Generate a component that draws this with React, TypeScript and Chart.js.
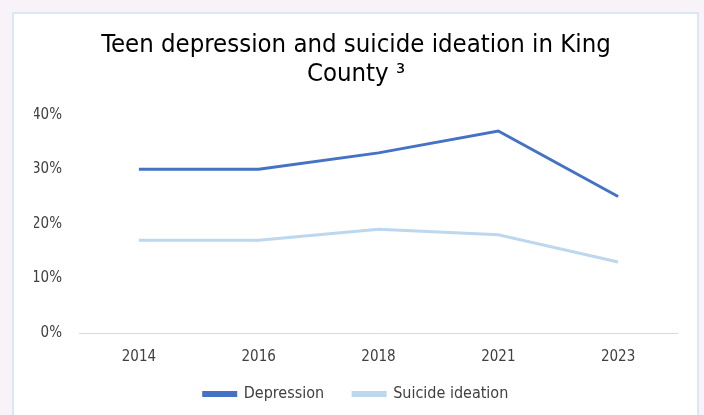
import React, { useEffect, useRef } from "react";
import { Chart, registerables } from "chart.js";

Chart.register(...registerables);

const categories = ["2014", "2016", "2018", "2021", "2023"];
const depression = [30, 30, 33, 37, 25];
const suicideIdeation = [17, 17, 19, 18, 13];
const yTicks = [0, 10, 20, 30, 40];
const titleLines = ["Teen depression and suicide ideation in King", "County \u00B3"];

const legendLift = {
  id: "legendLift",
  afterLayout(chart: any) {
    const lg = chart.legend;
    if (lg) {
      lg.top -= 5;
      lg.bottom -= 5;
    }
  },
};

export default function App() {
  const ref = useRef<HTMLCanvasElement | null>(null);
  useEffect(() => {
    if (!ref.current) return;
    const font = "Tahoma, 'DejaVu Sans Condensed', 'Liberation Sans', sans-serif";
    const chart = new Chart(ref.current, {
      type: "line",
      data: {
        labels: categories,
        datasets: [
          {
            label: "Depression",
            data: depression,
            borderColor: "#4472C4",
            backgroundColor: "#4472C4",
            borderWidth: 3,
            pointRadius: 0,
            tension: 0,
          },
          {
            label: "Suicide ideation",
            data: suicideIdeation,
            borderColor: "#BDD7EE",
            backgroundColor: "#BDD7EE",
            borderWidth: 3,
            pointRadius: 0,
            tension: 0,
          },
        ],
      },
      plugins: [legendLift],
      options: {
        animation: false,
        responsive: false,
        layout: { padding: { left: 20, right: 20, top: 8, bottom: 3 } },
        plugins: {
          title: {
            display: true,
            text: titleLines,
            color: "#000000",
            font: { family: font, size: 25.5, weight: "normal", lineHeight: 1.17 },
            padding: { top: 8, bottom: 25 },
          },
          legend: {
            position: "bottom",
            labels: {
              boxWidth: 32,
              boxHeight: 3,
              color: "#404040",
              font: { family: font, size: 16 },
              padding: 29,
            },
          },
          tooltip: { enabled: false },
        },
        scales: {
          x: {
            offset: true,
            grid: { display: false },
            border: { display: false },
            afterFit: (s: any) => {
              s.height -= 11;
            },
            ticks: { color: "#404040", font: { family: font, size: 15 }, padding: 7 },
          },
          y: {
            min: 0,
            max: 40,
            afterBuildTicks: (s: any) => {
              s.ticks = yTicks.map((v) => ({ value: v }));
            },
            afterFit: (s: any) => {
              s.width = 45;
            },
            grid: {
              color: (c: any) => (c.tick && c.tick.value === 0 ? "#d9d9d9" : "transparent"),
              drawTicks: false,
            },
            border: { display: false },
            ticks: {
              color: "#404040",
              font: { family: font, size: 15 },
              padding: 17,
              callback: (v: any) => v + "%",
            },
          },
        },
      },
    });
    return () => chart.destroy();
  }, []);
  return (
    <div style={{ position: "fixed", left: 0, top: 0, width: 704, height: 415, background: "#f8f3f8", overflow: "hidden" }}>
      <div
        style={{
          position: "absolute",
          left: 12,
          top: 12,
          width: 687,
          height: 420,
          background: "#ffffff",
          border: "2px solid #dce7f5",
          boxSizing: "border-box",
        }}
      />
      <canvas ref={ref} width={684} height={406} style={{ position: "absolute", left: 14, top: 14 }} />
    </div>
  );
}
